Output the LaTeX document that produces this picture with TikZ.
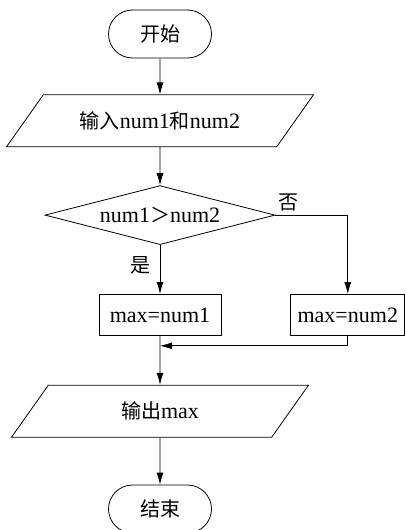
\documentclass[tikz,border=0pt]{standalone}
\usepackage{fontspec}
\setmainfont[Scale=1.1]{Liberation Serif}
\newfontfamily\cjk{Noto Sans CJK SC}
\usetikzlibrary{shapes.geometric,arrows.meta,positioning}

\begin{document}
\begin{tikzpicture}[
    x=1pt, y=1pt,
    line width=0.8pt,
    txt/.style={font=\fontsize{20}{24}\selectfont},
    term/.style={rectangle, draw, txt, rounded corners=24pt, minimum width=103pt, minimum height=48pt},
    iobox/.style={trapezium, draw, txt, trapezium left angle=35, trapezium right angle=145, trapezium stretches body, minimum height=52pt},
    procbox/.style={rectangle, draw, txt, minimum height=41pt},
    decbox/.style={diamond, draw, txt, aspect=3.9, inner sep=0pt, minimum width=230pt, minimum height=59pt},
    lbl/.style={txt, inner sep=0pt},
    arrow/.style={-{Latex[length=12pt,width=7pt]}}
]
\useasboundingbox (0,0) rectangle (406,-530);

% Start
\node[term] (start) at (160,-34) {{\cjk 开始}};

% Input
\node[iobox, minimum width=307pt, below=36pt of start] (input) {{\cjk 输入}num1{\cjk 和}num2};

% Compare
\node[decbox, below=38pt of input] (cmp) {num1{\cjk ＞}num2};

% Two branches
\node[procbox, minimum width=122pt, below=49pt of cmp] (max1) {max=num1};
\node[procbox, minimum width=114pt, right=69pt of max1] (max2) {max=num2};
\coordinate[below=10pt of max1] (join);

% Output
\node[iobox, minimum width=297pt, below=49pt of max1] (output) {{\cjk 输出}max};

% End
\node[term, below=47pt of output] (stop) {{\cjk 结束}};

% Labels
\node[lbl] (no) at (288,-202) {{\cjk 否}};
\node[lbl] (yes) at (140,-265) {{\cjk 是}};

% Arrows
\draw[arrow] (start) -- (input);
\draw[arrow] (input) -- (cmp);
\draw[arrow] (cmp) -- (max1);
\draw[arrow] (cmp.east) -| (max2.north);
\draw[arrow] (max2.south) |- (join);
\draw[arrow] (max1) -- (output);
\draw[arrow] (output) -- (stop);

\end{tikzpicture}
\end{document}
